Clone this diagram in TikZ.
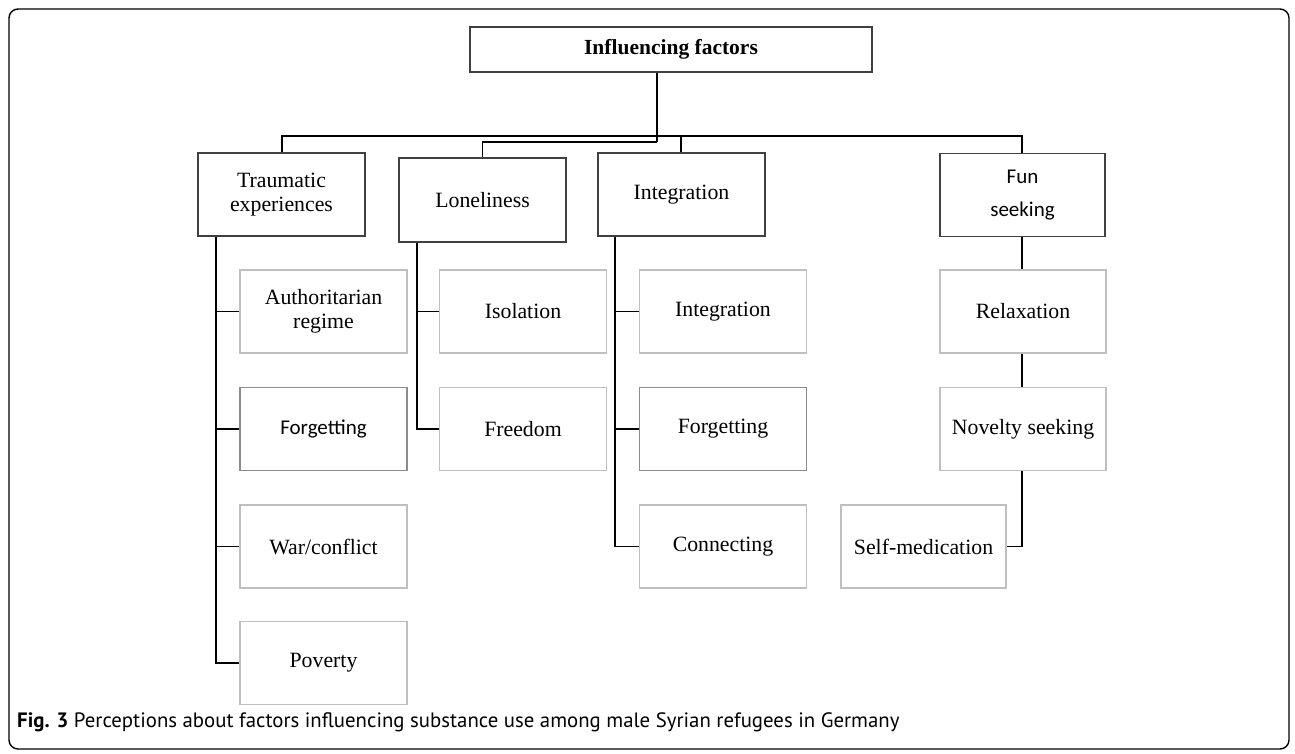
\documentclass[tikz,border=0pt]{standalone}
\usepackage{fontspec}
\setmainfont{Liberation Serif}
\newfontfamily\calib{Carlito}
\newfontfamily\capfont{PT Sans}
\begin{document}
\begin{tikzpicture}[x=1pt,y=-1pt,
  lvlbox/.style={draw=black!75, line width=1.8pt, minimum width=167pt, minimum height=83pt, align=center, inner sep=0pt, font=\fontsize{21.8}{24}\selectfont},
  subbox/.style={draw=black!25, line width=1.3pt, minimum width=167pt, minimum height=83pt, align=center, inner sep=0pt, font=\fontsize{21.8}{24}\selectfont},
  midbox/.style={subbox, draw=black!45, line width=1.8pt},
  link/.style={line width=1.8pt},
  sublink/.style={line width=1.4pt}]
\useasboundingbox (0,0) rectangle (1295,754);
\draw[line width=1.4pt, rounded corners=9pt] (9,9) rectangle (1289,749);
% top
\node[draw=black!75, line width=2pt, minimum width=402pt, minimum height=45pt, inner sep=0pt, font=\bfseries\fontsize{21.5}{24}\selectfont] (top) at (671,49.5) {Influencing factors};
% level 1
\node[lvlbox] (trauma) at (281.5,194.5) {Traumatic\\experiences};
\node[lvlbox, minimum height=84pt] (lonely) at (482.5,200) {Loneliness};
\node[lvlbox] (integ) at (681.5,194.5) {Integration};
\node[lvlbox, minimum width=165pt, font=\calib\fontsize{21}{33}\selectfont] (fun) at (1022.5,195) {Fun\\seeking};
% children
\node[subbox] (auth) at (323.5,311.5) {Authoritarian\\regime};
\node[midbox, font=\calib\fontsize{21}{24}\selectfont] (forg1) at (323.5,429) {Forgetting};
\node[subbox] (war) at (323.5,546.5) {War/conflict};
\node[subbox] (pov) at (323.5,663) {Poverty};
\node[subbox] (iso) at (523,311.5) {Isolation};
\node[subbox] (free) at (523,429) {Freedom};
\node[subbox] (int2) at (723,311.5) {Integration};
\node[midbox] (forg2) at (723,429) {Forgetting};
\node[subbox] (conn) at (723,546.5) {Connecting};
\node[subbox, minimum width=166pt] (relax) at (1023,311.5) {Relaxation};
\node[subbox, minimum width=166pt] (nov) at (1023,429) {Novelty seeking};
\node[subbox, minimum width=165pt] (self) at (923.5,546.5) {Self-medication};
% top connectors
\coordinate (hl) at (282,136);
\coordinate (hr) at (1022,136);
\coordinate (lj) at (657,142);
\draw[link] (top.south -| lj) -- (lj);
\draw[link] (trauma.north -| hl) -- (hl) -- (hr) -- (fun.north -| hr);
\draw[link] (lonely.north) -- (lonely.north |- lj) -- (lj);
\draw[link] (integ.north -| 681,0) -- (681,136);
% trauma spine
\coordinate (ts) at (216,0);
\draw[sublink] (trauma.south -| ts) -- (pov.west -| ts) -- (pov.west);
\draw[sublink] (auth.west -| ts) -- (auth.west);
\draw[sublink] (forg1.west -| ts) -- (forg1.west);
\draw[sublink] (war.west -| ts) -- (war.west);
% lonely spine
\coordinate (ls) at (417,0);
\draw[sublink] (lonely.south -| ls) -- (free.west -| ls) -- (free.west);
\draw[sublink] (iso.west -| ls) -- (iso.west);
% integration spine
\coordinate (is) at (615,0);
\draw[sublink] (integ.south -| is) -- (conn.west -| is) -- (conn.west);
\draw[sublink] (int2.west -| is) -- (int2.west);
\draw[sublink] (forg2.west -| is) -- (forg2.west);
% fun chain
\coordinate (fs) at (1022,0);
\draw[link] (fun.south -| fs) -- (relax.north -| fs);
\draw[sublink] (relax.south -| fs) -- (nov.north -| fs);
\draw[sublink] (nov.south -| fs) -- (self.east -| fs) -- (self.east);
% caption
\node[anchor=base west, inner sep=0pt, font=\capfont\fontsize{20.8}{24}\selectfont] (cap) at (17,727) {\textbf{Fig. 3} Perceptions about factors influencing substance use among male Syrian refugees in Germany};
\end{tikzpicture}
\end{document}
